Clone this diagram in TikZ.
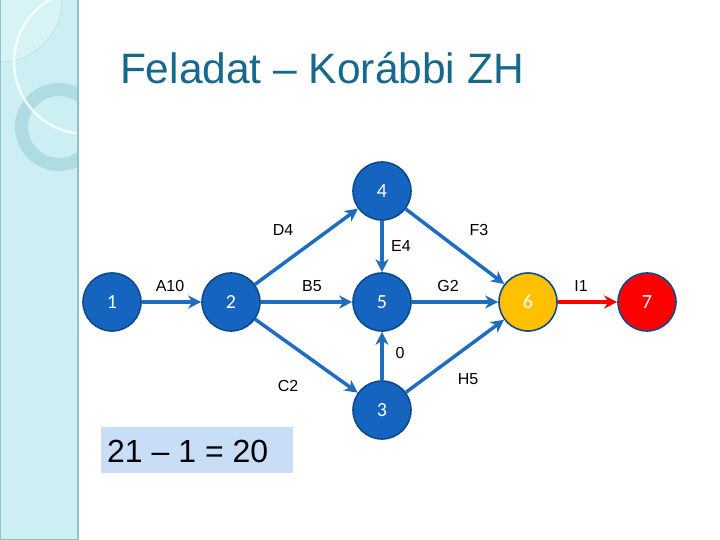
\documentclass[tikz,border=0pt]{standalone}
\usepackage{fontspec}
\setmainfont{Liberation Sans}
\newfontfamily\numfont{Carlito}
\usetikzlibrary{arrows.meta}
\definecolor{side}{HTML}{CBEFF2}
\definecolor{sidelight}{HTML}{D8F3F5}
\definecolor{sideedge}{HTML}{8FC3C8}
\definecolor{ringc}{HTML}{AEDCE2}
\definecolor{titlec}{HTML}{14698C}
\definecolor{nodeblue}{HTML}{1565C0}
\definecolor{nodeedge}{HTML}{0E4A8C}
\definecolor{edgeblue}{HTML}{1F6DBF}
\definecolor{gold}{HTML}{FFC000}
\definecolor{boxblue}{HTML}{C8DEF6}
\tikzset{
  ev/.style={circle, draw=nodeedge, line width=1.6pt, fill=nodeblue, minimum size=58pt, inner sep=0pt, text=white, font=\numfont\fontsize{20}{22}\selectfont},
  act/.style={draw=edgeblue, line width=3.5pt, -{Stealth[length=13pt,width=13pt,inset=4pt]}},
  lab/.style={font=\fontsize{16}{18}\selectfont, text=black, inner sep=0pt}
}
\begin{document}
\begin{tikzpicture}[x=1pt,y=-1pt]
\useasboundingbox (0,0) rectangle (720,540);
\fill[white] (0,0) rectangle (720,540);
% sidebar
\fill[side] (0,0) rectangle (78,540);
\begin{scope}
\clip (0,0) rectangle (78,540);
\fill[sidelight] (0,0) circle (62);
\draw[sideedge!60, line width=0.5pt] (0,0) circle (62);
\draw[ringc, line width=13pt] (59,127) circle (37.5);
\draw[white, line width=2.5pt, opacity=0.8] (86,62) circle (72);
\end{scope}
\draw[sideedge, line width=1.5pt] (78,0) -- (78,540);
\draw[sideedge, line width=1pt] (0.5,0) -- (0.5,540);
\draw[sideedge, line width=1pt] (0,539.5) -- (78,539.5);
% title
\node (title) [text=titlec, font=\fontsize{42.5}{48}\selectfont, anchor=base] at (322,84) {Feladat – Korábbi ZH};
% events
\node (n1) [ev] at (112,302) {1};
\node (n2) [ev] at (231,302) {2};
\node (n4) [ev] at (382,191) {4};
\node (n5) [ev] at (382,302) {5};
\node (n3) [ev] at (382,410) {3};
\node (n6) [ev, fill=gold] at (528,302) {6};
\node (n7) [ev, fill=red] at (647,302) {7};
% activities
\draw[act] (n1) -- (n2);
\draw[act] (n2) -- (n4);
\draw[act] (n2) -- (n5);
\draw[act] (n2) -- (n3);
\draw[act] (n4) -- (n5);
\draw[act] (n4) -- (n6);
\draw[act] (n5) -- (n6);
\draw[act] (n3) -- (n5);
\draw[act] (n3) -- (n6);
\draw[act, draw=red] (n6) -- (n7);
% labels
\node (lA) [lab] at (170,286) {A10};
\node (lB) [lab] at (312,286) {B5};
\node (lD) [lab] at (283,230) {D4};
\node (lE) [lab] at (401,246) {E4};
\node (lF) [lab] at (479,230) {F3};
\node (lG) [lab] at (448,286) {G2};
\node (lI) [lab] at (581,286) {I1};
\node (l0) [lab] at (400,353) {0};
\node (lC) [lab] at (288,386) {C2};
\node (lH) [lab] at (468,379) {H5};
% result box
\fill[boxblue] (101,427) rectangle (293,473);
\node (res) [font=\fontsize{32}{36}\selectfont, anchor=west, inner sep=0pt] at (107,451) {21 – 1 = 20};
\end{tikzpicture}
\end{document}
